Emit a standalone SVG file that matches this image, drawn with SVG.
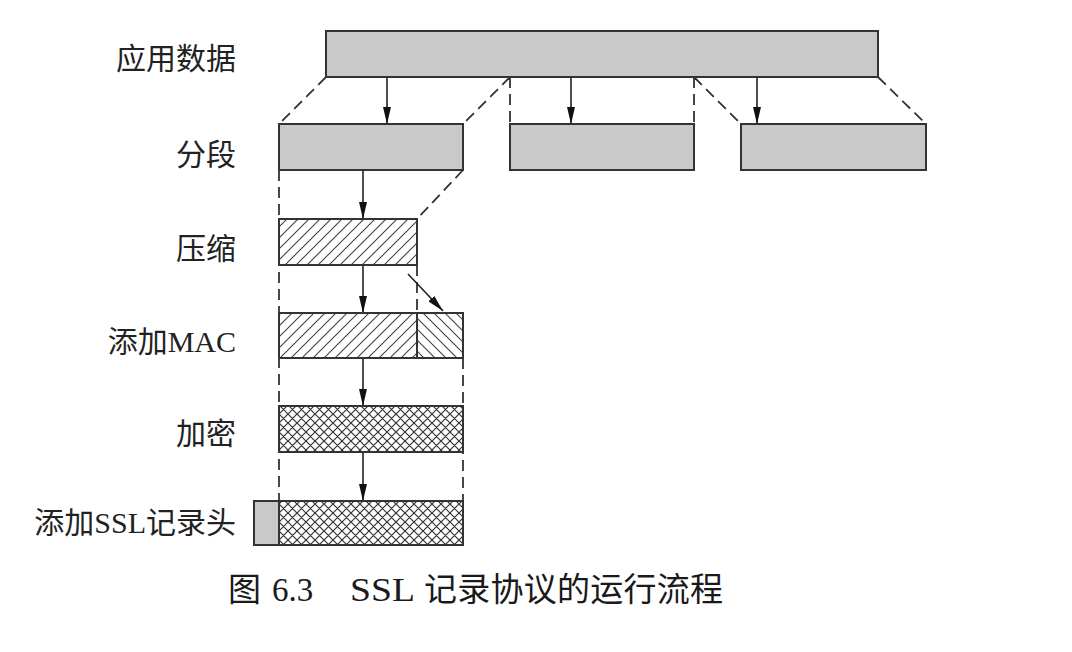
<svg xmlns="http://www.w3.org/2000/svg" width="1072" height="652" viewBox="0 0 1072 652">
<style>
.lbl{font-family:"Liberation Serif","Noto Sans CJK SC",serif;font-size:30px;fill:#222;text-anchor:end}
.cap{font-family:"Liberation Serif","Noto Sans CJK SC",serif;font-size:33px;fill:#1a1a1a}
.box{stroke:#333;stroke-width:2}
.gray{fill:#c9c9c9}
.dash{stroke:#333;stroke-width:1.8;stroke-dasharray:11 6;fill:none}
.arr{stroke:#222;stroke-width:1.6;fill:none;marker-end:url(#ah)}
</style>
<defs>
<marker id="ah" viewBox="0 0 17 8" refX="17" refY="4" markerWidth="17" markerHeight="8" markerUnits="userSpaceOnUse" orient="auto">
<path d="M0,0 L17,4 L0,8 z" fill="#111"/>
</marker>
<pattern id="fwd" patternUnits="userSpaceOnUse" width="11" height="11">
<rect width="11" height="11" fill="#fff"/>
<path d="M-1,12 L12,-1 M-6,6 L6,-6 M5,17 L17,5" stroke="#444" stroke-width="1.1"/>
</pattern>
<pattern id="bwd" patternUnits="userSpaceOnUse" width="11" height="11">
<rect width="11" height="11" fill="#fff"/>
<path d="M-1,-1 L12,12 M-6,5 L6,17 M5,-6 L17,6" stroke="#444" stroke-width="1.1"/>
</pattern>
<pattern id="cross" patternUnits="userSpaceOnUse" width="9" height="9">
<rect width="9" height="9" fill="#fff"/>
<path d="M-1,10 L10,-1 M-5,5 L5,-5 M4,14 L14,4 M-1,-1 L10,10 M-5,4 L5,14 M4,-5 L14,5" stroke="#333" stroke-width="1.2"/>
</pattern>
</defs>

<g id="labels">
<text class="lbl" x="236" y="69">应用数据</text>
<text class="lbl" x="236" y="165">分段</text>
<text class="lbl" x="236" y="259">压缩</text>
<text class="lbl" x="236" y="352">添加MAC</text>
<text class="lbl" x="236" y="444">加密</text>
<text class="lbl" x="236" y="533">添加SSL记录头</text>
</g>

<g id="connectors">
<path class="dash" d="M326,77 L279,124 M510,77 L463,124 M510,77 L510,124 M694,77 L694,124 M694,77 L741,124 M878,77 L926,124"/>
<path class="dash" d="M463,170 L417,219 M279,170 L279,501 M417,265 L417,313 M463,358 L463,501"/>
<line class="arr" x1="387" y1="77" x2="387" y2="124"/>
<line class="arr" x1="571" y1="77" x2="571" y2="124"/>
<line class="arr" x1="757" y1="77" x2="757" y2="124"/>
<line class="arr" x1="363" y1="170" x2="363" y2="219"/>
<line class="arr" x1="363" y1="265" x2="363" y2="313"/>
<line class="arr" x1="408" y1="274" x2="443" y2="311"/>
<line class="arr" x1="363" y1="358" x2="363" y2="406"/>
<line class="arr" x1="363" y1="452" x2="363" y2="501"/>
</g>

<g id="app-data"><rect class="box gray" x="326" y="31" width="552" height="46"/></g>
<g id="seg1"><rect class="box gray" x="279" y="124" width="184" height="46"/></g>
<g id="seg2"><rect class="box gray" x="510" y="124" width="184" height="46"/></g>
<g id="seg3"><rect class="box gray" x="741" y="124" width="185" height="46"/></g>
<g id="compress"><rect class="box" fill="url(#fwd)" x="279" y="219" width="138" height="46"/></g>
<g id="mac">
<rect class="box" fill="url(#fwd)" x="279" y="313" width="138" height="45"/>
<rect class="box" fill="url(#bwd)" x="417" y="313" width="46" height="45"/>
</g>
<g id="encrypt"><rect class="box" fill="url(#cross)" x="279" y="406" width="184" height="46"/></g>
<g id="ssl-header">
<rect class="box gray" x="254" y="501" width="25" height="44"/>
<rect class="box" fill="url(#cross)" x="279" y="501" width="184" height="44"/>
</g>

<g id="caption">
<text class="cap" x="228" y="601">图</text>
<text class="cap" x="272" y="601">6.3</text>
<text class="cap" x="350" y="601" textLength="65" lengthAdjust="spacingAndGlyphs">SSL</text>
<text class="cap" x="424" y="601" textLength="299" lengthAdjust="spacing">记录协议的运行流程</text>
</g>
</svg>
